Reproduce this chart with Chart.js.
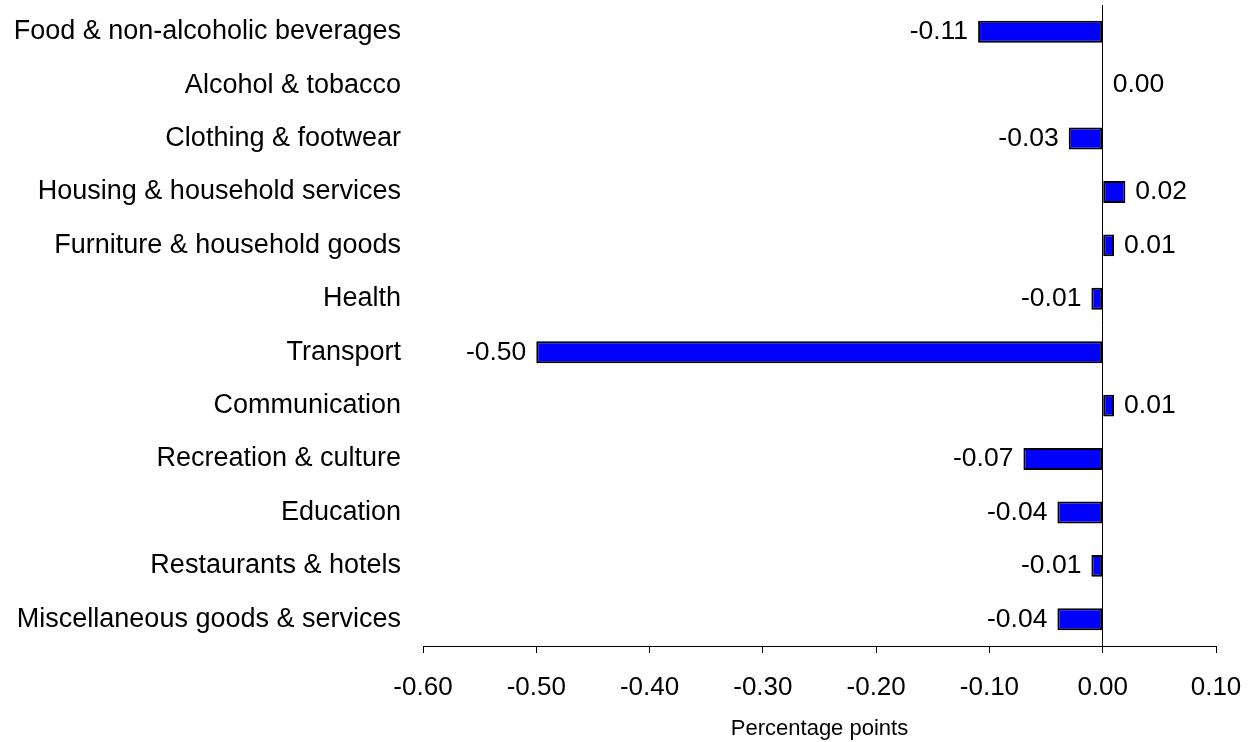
<!DOCTYPE html>
<html>
<head>
<meta charset="utf-8">
<title>Contributions to change</title>
<script src="https://cdn.jsdelivr.net/npm/chart.js@4.4.1/dist/chart.umd.min.js"></script>
<style>
  html, body { margin: 0; padding: 0; background: #fff; }
  #wrap { width: 1254px; height: 742px; }
</style>
</head>
<body>
<div id="wrap"><canvas id="contribChart"></canvas></div>
<script>
// categories and contributions (percentage points)
const categories = [
  'Food & non-alcoholic beverages',
  'Alcohol & tobacco',
  'Clothing & footwear',
  'Housing & household services',
  'Furniture & household goods',
  'Health',
  'Transport',
  'Communication',
  'Recreation & culture',
  'Education',
  'Restaurants & hotels',
  'Miscellaneous goods & services'
];
const contributions = [-0.11, 0.00, -0.03, 0.02, 0.01, -0.01, -0.50, 0.01, -0.07, -0.04, -0.01, -0.04];
const xTicks = [-0.60, -0.50, -0.40, -0.30, -0.20, -0.10, 0.00, 0.10];

const FONT = '"Liberation Sans", Arial, sans-serif';

// value labels at the end of each bar
const barLabels = {
  id: 'barLabels',
  afterDatasetsDraw(chart) {
    const ctx = chart.ctx;
    const meta = chart.getDatasetMeta(0);
    ctx.save();
    ctx.font = '26.5px ' + FONT;
    ctx.fillStyle = '#000';
    ctx.textBaseline = 'middle';
    meta.data.forEach((bar, i) => {
      const v = contributions[i];
      if (v < 0) {
        ctx.textAlign = 'right';
        ctx.fillText(v.toFixed(2), bar.x - 10, bar.y);
      } else {
        ctx.textAlign = 'left';
        ctx.fillText(v.toFixed(2), bar.x + 10, bar.y);
      }
    });
    ctx.restore();
  }
};

const ctx = document.getElementById('contribChart').getContext('2d');
new Chart(ctx, {
  type: 'bar',
  data: {
    labels: categories,
    datasets: [{
      data: contributions,
      backgroundColor: '#0000ff',
      borderColor: '#000',
      borderWidth: c => (contributions[c.dataIndex] === 0 ? 0 : 2),
      borderSkipped: false,
      categoryPercentage: 1,
      barPercentage: 0.41
    }]
  },
  options: {
    indexAxis: 'y',
    responsive: true,
    maintainAspectRatio: false,
    animation: false,
    layout: { padding: { top: 5, right: 38, left: 0, bottom: 0 } },
    plugins: {
      legend: { display: false },
      tooltip: { enabled: false }
    },
    scales: {
      x: {
        min: xTicks[0],
        max: xTicks[xTicks.length - 1],
        afterBuildTicks: axis => { axis.ticks = xTicks.map(v => ({ value: v })); },
        afterFit: axis => {
          axis.height = 96;
          axis.paddingLeft = 0;
          axis.paddingRight = 0;
        },
        border: { display: true, color: '#000', width: 1 },
        grid: {
          drawOnChartArea: true,
          color: c => (Math.abs(c.tick.value) < 1e-9 ? '#000' : 'rgba(0,0,0,0)'),
          tickColor: '#000',
          tickLength: 7,
          lineWidth: 1
        },
        ticks: {
          color: '#000',
          font: { family: FONT, size: 26 },
          padding: 19,
          maxRotation: 0,
          callback: v => Number(v).toFixed(2)
        },
        title: {
          display: true,
          text: 'Percentage points',
          color: '#000',
          font: { family: FONT, size: 22 },
          padding: { top: 8, bottom: 0 }
        }
      },
      y: {
        afterFit: axis => {
          axis.width = 423;
          axis.paddingTop = 0;
          axis.paddingBottom = 0;
        },
        border: { display: false },
        grid: { display: false },
        ticks: {
          color: '#000',
          font: { family: FONT, size: 27 },
          padding: 14
        }
      }
    }
  },
  plugins: [barLabels]
});
</script>
</body>
</html>
